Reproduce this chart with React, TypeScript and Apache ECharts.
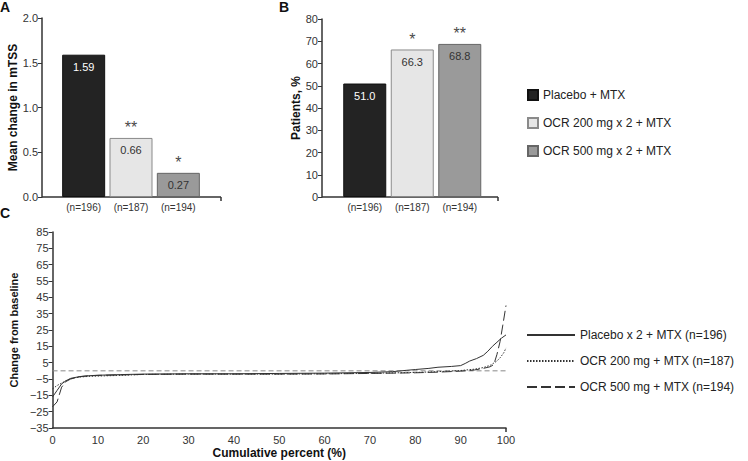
import React, { useEffect, useRef } from "react";
import * as echarts from "echarts";

// ---------- data ----------
const groupNames = ["Placebo + MTX", "OCR 200 mg x 2 + MTX", "OCR 500 mg x 2 + MTX"];
const nLabels = ["(n=196)", "(n=187)", "(n=194)"];
const mtssChange = [1.59, 0.66, 0.27];
const mtssSig = ["", "**", "*"];
const patientsPct = [51.0, 66.3, 68.8];
const patientsSig = ["", "*", "**"];

const curveNames = [
  "Placebo x 2 + MTX (n=196)",
  "OCR 200 mg + MTX (n=187)",
  "OCR 500 mg + MTX (n=194)",
];
// [cumulative percent, change from baseline]
const placeboCurve = [
  [0, -16], [1, -12], [2, -8], [3, -6], [4, -4.6], [6, -3.5], [8, -3], [10, -2.7],
  [15, -2.3], [20, -2], [30, -1.8], [40, -1.8], [50, -1.6], [60, -1.4], [70, -1],
  [75, -0.5], [78, 0.3], [80, 0.8], [83, 1.5], [85, 2.2], [88, 2.7], [90, 3.2],
  [91, 4.5], [92, 6], [93.5, 7.5], [95, 9.5], [96, 12], [97, 15], [98, 17.5],
  [99, 20], [100, 22],
];
const ocr200Curve = [
  [0, -11], [1, -9], [2, -7.5], [3, -6], [4, -4.8], [6, -3.8], [8, -3.4], [10, -3.2],
  [15, -2.8], [20, -2.2], [30, -2], [40, -2], [50, -2], [60, -1.8], [70, -1.5],
  [80, -1], [85, -0.5], [90, 0.2], [93, 1], [95, 2], [96.6, 3.5], [98, 6],
  [98.7, 8], [99.5, 11], [100, 14],
];
const ocr500Curve = [
  [0, -22], [1, -19], [2, -10], [3, -6.5], [4, -5], [6, -3.6], [8, -3], [10, -2.8],
  [15, -2.5], [20, -2.2], [30, -2], [40, -2], [50, -2], [60, -1.9], [70, -1.6],
  [80, -1.2], [85, -0.8], [90, -0.2], [93, 0.5], [95, 1.5], [96.5, 2.5], [97.3, 3.8],
  [98, 10], [98.7, 18], [99.3, 28], [100, 40],
];
const curves = [placeboCurve, ocr200Curve, ocr500Curve];
const baselineRef = [[0, 0], [100, 0]];

// ---------- styles ----------
const FONT = "'Liberation Sans', Arial, sans-serif";
const AXIS = "#333333";
const barFill = ["#232323", "#e6e6e6", "#9a9a9a"];
const barBorder = ["#111111", "#8a8a8a", "#666666"];
const barLabelColor = ["#ffffff", "#333333", "#333333"];
const curveDash: any[] = ["solid", [1.5, 1.5], [10, 4]];

function barSeries(values: number[], sig: string[], axis: number, digits: number) {
  const out: any[] = groupNames.map((name, i) => ({
    type: "bar",
    name,
    xAxisIndex: axis,
    yAxisIndex: axis,
    barWidth: 43,
    barGap: "-100%",
    data: values.map((v, j) => (j === i ? v : "-")),
    itemStyle: { color: barFill[i], borderColor: barBorder[i], borderWidth: 1 },
    label: {
      show: true,
      position: "insideTop",
      distance: 7,
      fontSize: 11,
      fontFamily: FONT,
      color: barLabelColor[i],
      formatter: (p: any) => Number(p.value).toFixed(digits),
    },
  }));
  out.push({
    type: "bar",
    name: "sig" + axis,
    xAxisIndex: axis,
    yAxisIndex: axis,
    barWidth: 43,
    barGap: "-100%",
    data: values,
    itemStyle: { color: "rgba(0,0,0,0)", borderWidth: 0 },
    silent: true,
    label: {
      show: true,
      position: "top",
      distance: 2,
      fontSize: 16,
      fontFamily: FONT,
      color: "#4a4a4a",
      textBorderWidth: 0,
      formatter: (p: any) => sig[p.dataIndex],
    },
  });
  return out;
}

const catAxis = (grid: number) => ({
  type: "category",
  gridIndex: grid,
  data: nLabels,
  axisLine: { show: false, onZero: false },
  axisTick: { show: false },
  axisLabel: { fontSize: 10, color: AXIS, fontFamily: FONT, margin: 5 },
});

const valAxisCommon = {
  type: "value",
  axisLine: { show: true, onZero: false, lineStyle: { color: AXIS, width: 1.5 } },
  axisTick: { show: true, length: 4, lineStyle: { color: AXIS } },
  splitLine: { show: false },
  axisLabel: { fontSize: 11, color: AXIS, fontFamily: FONT, margin: 4 },
  nameLocation: "middle",
  nameTextStyle: { fontSize: 12, fontWeight: "bold", color: "#111", fontFamily: FONT },
};

export default function App() {
  const ref = useRef<HTMLDivElement>(null);
  useEffect(() => {
    if (!ref.current) return;
    const chart = echarts.init(ref.current, undefined, { renderer: "svg" });
    const option: any = {
      animation: false,
      backgroundColor: "#ffffff",
      textStyle: { fontFamily: FONT },
      grid: [
        { left: 60, top: 18, width: 142, height: 179 },
        { left: 341, top: 19, width: 142.5, height: 178 },
        { left: 42, top: 232, width: 464, height: 196 },
      ],
      xAxis: [
        catAxis(0),
        catAxis(1),
        {
          type: "value",
          gridIndex: 2,
          min: 0,
          max: 100,
          interval: 10,
          axisLine: { show: true, onZero: false, lineStyle: { color: AXIS, width: 1.5 } },
          axisTick: { show: false },
          splitLine: { show: false },
          axisLabel: { fontSize: 11, color: AXIS, fontFamily: FONT, margin: 6 },
          name: "Cumulative percent (%)",
          nameLocation: "middle",
          nameGap: 19,
          nameTextStyle: { fontSize: 12, fontWeight: "bold", color: "#111", fontFamily: FONT },
        },
      ],
      yAxis: [
        {
          ...valAxisCommon,
          gridIndex: 0,
          min: 0,
          max: 2,
          interval: 0.5,
          offset: 18,
          name: "Mean change in mTSS",
          nameGap: 22,
          axisLabel: { ...valAxisCommon.axisLabel, formatter: (v: number) => Number(v).toFixed(1) },
        },
        {
          ...valAxisCommon,
          gridIndex: 1,
          min: 0,
          max: 80,
          interval: 10,
          offset: 19,
          name: "Patients, %",
          nameGap: 20,
        },
        {
          ...valAxisCommon,
          gridIndex: 2,
          min: -35,
          max: 85,
          interval: 10,
          name: "Change from baseline",
          nameGap: 21,
          nameTextStyle: { ...valAxisCommon.nameTextStyle, fontSize: 11 },
          axisLabel: {
            ...valAxisCommon.axisLabel,
            formatter: (v: number) => (v < 0 ? "\u2212" + Math.abs(v) : String(v)),
          },
        },
      ],
      legend: [
        {
          data: groupNames,
          orient: "vertical",
          left: 527,
          top: 89,
          padding: 0,
          itemWidth: 10,
          itemHeight: 10,
          itemGap: 16,
          icon: "rect",
          selectedMode: false,
          textStyle: { fontSize: 12, color: "#222", fontFamily: FONT },
        },
        {
          data: curveNames,
          orient: "vertical",
          left: 526,
          top: 329,
          padding: 0,
          itemWidth: 48,
          itemHeight: 12,
          itemGap: 14,
          selectedMode: false,
          itemStyle: { color: "rgba(0,0,0,0)", borderWidth: 0, opacity: 0 },
          textStyle: { fontSize: 12, color: "#222", fontFamily: FONT },
        },
      ],
      series: [
        ...barSeries(mtssChange, mtssSig, 0, 2),
        ...barSeries(patientsPct, patientsSig, 1, 1),
        {
          type: "line",
          name: "baseline",
          xAxisIndex: 2,
          yAxisIndex: 2,
          data: baselineRef,
          symbol: "none",
          silent: true,
          lineStyle: { color: "#888", width: 1, type: [5, 3] },
        },
        ...curveNames.map((name, i) => ({
          type: "line",
          name,
          xAxisIndex: 2,
          yAxisIndex: 2,
          data: curves[i],
          symbol: "none",
          lineStyle: { color: "#333", width: 1, type: curveDash[i] },
          itemStyle: { color: "#333" },
        })),
      ],
      graphic: [
        { type: "text", left: 0, top: 0, style: { text: "A", fontSize: 14, fontWeight: "bold", fill: "#111", fontFamily: FONT } },
        { type: "text", left: 279, top: 0, style: { text: "B", fontSize: 14, fontWeight: "bold", fill: "#111", fontFamily: FONT } },
        { type: "text", left: 0, top: 206, style: { text: "C", fontSize: 14, fontWeight: "bold", fill: "#111", fontFamily: FONT } },
        { type: "line", shape: { x1: 42, y1: 197, x2: 221, y2: 197 }, style: { stroke: AXIS, lineWidth: 1.5 } },
        { type: "line", shape: { x1: 221, y1: 197, x2: 221, y2: 201 }, style: { stroke: AXIS, lineWidth: 1.5 } },
        { type: "line", shape: { x1: 322, y1: 197, x2: 498, y2: 197 }, style: { stroke: AXIS, lineWidth: 1.5 } },
        { type: "line", shape: { x1: 498, y1: 197, x2: 498, y2: 201 }, style: { stroke: AXIS, lineWidth: 1.5 } },
        { type: "line", shape: { x1: 506, y1: 428, x2: 506, y2: 432 }, style: { stroke: AXIS, lineWidth: 1.5 } },
      ],
    };
    chart.setOption(option);
    return () => chart.dispose();
  }, []);
  return (
    <div
      ref={ref}
      style={{ position: "fixed", left: 0, top: 0, width: 748, height: 461, background: "#fff" }}
    />
  );
}
